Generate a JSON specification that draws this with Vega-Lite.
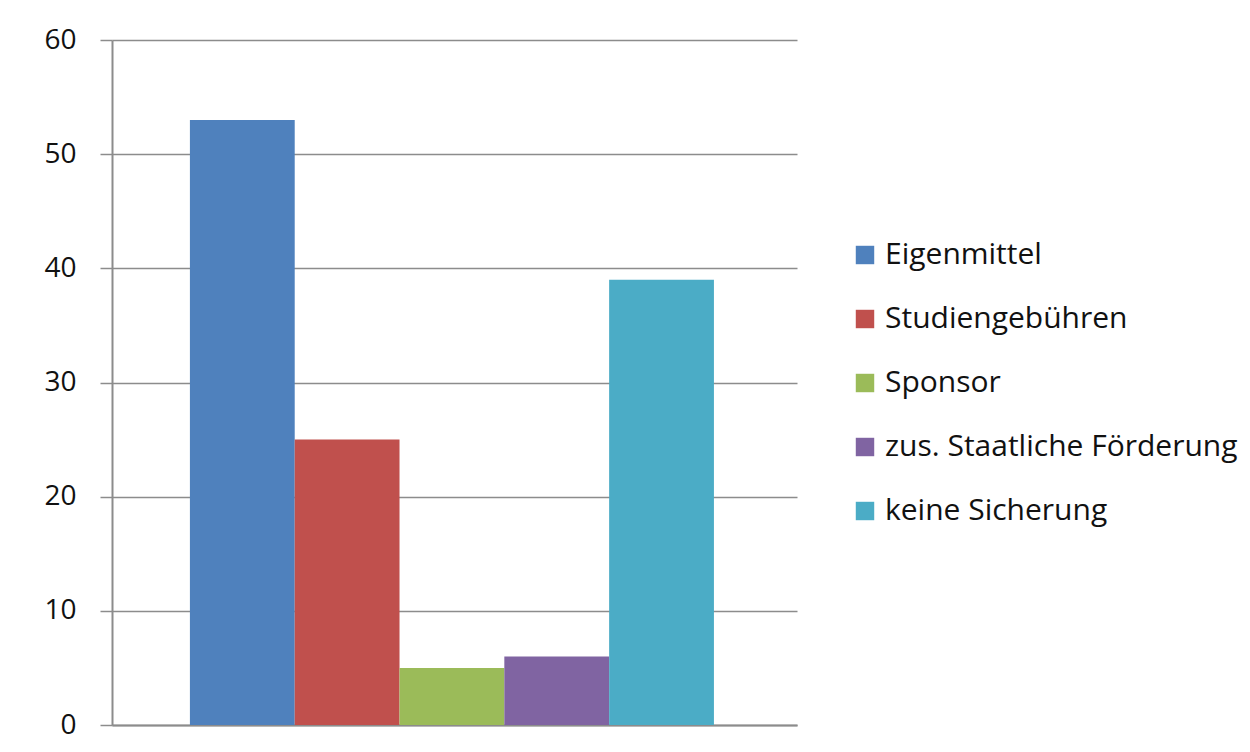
{
  "$schema": "https://vega.github.io/schema/vega-lite/v6.json",
  "autosize": "none",
  "width": 685,
  "height": 685,
  "padding": {"left": 112, "top": 40, "right": 453, "bottom": 27},
  "background": "white",
  "data": {
    "values": [
      {"Finanzierung": "Eigenmittel", "Wert": 53},
      {"Finanzierung": "Studiengebühren", "Wert": 25},
      {"Finanzierung": "Sponsor", "Wert": 5},
      {"Finanzierung": "zus. Staatliche  Förderung", "Wert": 6},
      {"Finanzierung": "keine Sicherung", "Wert": 39}
    ]
  },
  "mark": {"type": "bar"},
  "encoding": {
    "x": {
      "field": "Finanzierung",
      "type": "nominal",
      "sort": null,
      "scale": {"paddingInner": 0, "paddingOuter": 0.768, "align": 0.484},
      "axis": {"labels": false, "ticks": false, "title": null, "domain": true, "domainColor": "#8c8c8c", "domainWidth": 2}
    },
    "y": {
      "field": "Wert",
      "type": "quantitative",
      "scale": {"domain": [0, 60]},
      "axis": {
        "values": [0, 10, 20, 30, 40, 50, 60],
        "title": null,
        "grid": true,
        "gridColor": "#8c8c8c",
        "gridWidth": 1.5,
        "domainColor": "#8c8c8c",
        "domainWidth": 2,
        "tickColor": "#8c8c8c",
        "tickWidth": 1.5,
        "tickSize": 12,
        "labelPadding": 24,
        "labelFont": "Open Sans",
        "labelFontSize": 28,
        "labelColor": "#111111"
      }
    },
    "color": {
      "field": "Finanzierung",
      "type": "nominal",
      "sort": null,
      "scale": {"range": ["#4F81BD", "#C0504D", "#9BBB59", "#8064A2", "#4BACC6"]},
      "legend": {
        "title": null,
        "orient": "none",
        "legendX": 738,
        "legendY": 200,
        "symbolType": "square",
        "symbolSize": 340,
        "symbolStrokeWidth": 0,
        "symbolOpacity": 1,
        "labelFont": "Open Sans",
        "labelFontSize": 30,
        "labelColor": "#111111",
        "labelOffset": 5,
        "labelLimit": 500,
        "rowPadding": 34
      }
    }
  },
  "config": {"view": {"stroke": null}}
}
